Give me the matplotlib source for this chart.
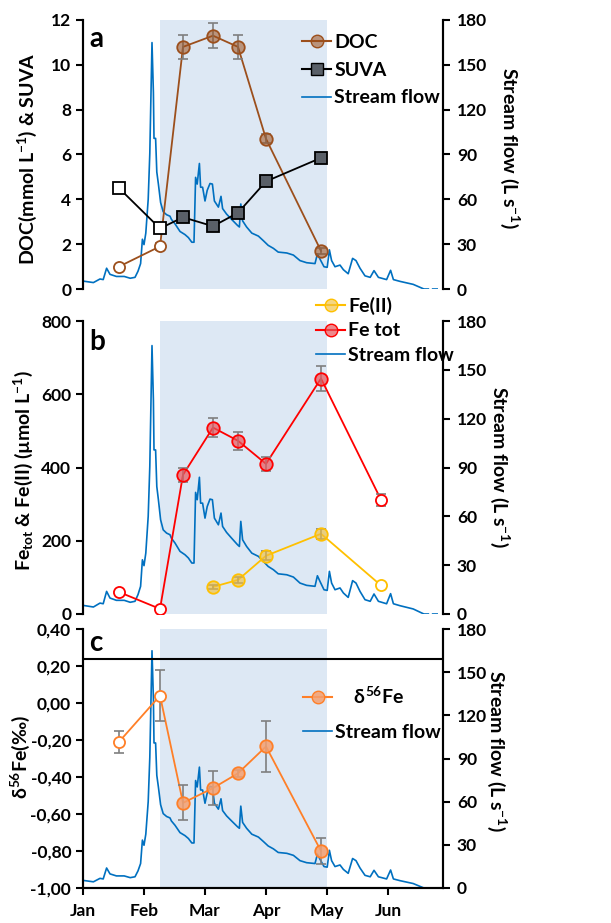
import numpy as np
import matplotlib
matplotlib.use("Agg")
import matplotlib.pyplot as plt
from matplotlib.lines import Line2D
from matplotlib.ticker import FuncFormatter

plt.rcParams['font.family'] = ['Lato', 'DejaVu Sans']
plt.rcParams['font.weight'] = 'bold'
plt.rcParams['axes.labelweight'] = 'bold'
plt.rcParams['mathtext.fontset'] = 'custom'
plt.rcParams['mathtext.rm'] = 'Lato:bold'
plt.rcParams['mathtext.bf'] = 'Lato:bold'
plt.rcParams['mathtext.it'] = 'Lato:bold'
plt.rcParams['mathtext.default'] = 'bf'

# ===== dati =====
# asse x: giorni dall'1 gennaio, mesi a passo costante (30.5 giorni) come nell'originale
sample_day = [18, 38.5, 50, 65, 77.5, 91.5, 119, 149]

doc = [1.0, 1.9, 10.8, 11.3, 10.8, 6.7, 1.7]
doc_err = [0.05, 0.15, 0.55, 0.55, 0.55, 0.2, 0.12]
suva = [4.5, 2.7, 3.2, 2.8, 3.4, 4.8, 5.85]

fe_tot = [60, 14, 380, 509, 473, 410, 643, 312]
fe_tot_err = [5, 5, 20, 25, 24, 20, 33, 16]
fe2_day = [65, 77.5, 91.5, 119, 149]
fe2 = [74, 93, 159, 219, 78]
fe2_err = [5, 8, 12, 14, 5]

d56fe = [-0.21, 0.04, -0.54, -0.46, -0.38, -0.235, -0.80]
d56fe_err = [0.06, 0.14, 0.095, 0.09, 0.02, 0.14, 0.07]

flow_day = [0, 5.2, 8.5, 10.1, 11.8, 13.5, 16.7, 20.6, 23.6, 26.0, 27.5, 28.8, 29.7, 30.5,
            31.4, 32.6, 33.4, 34.5, 35.2, 35.5, 36.3, 36.9, 37.7, 38.8, 40.1, 41.8, 43.5,
            44.2, 46.0, 48.5, 51.0, 52.7, 54.4, 55.5, 56.3, 57.1, 58.2, 58.8, 59.8, 61.0,
            62.1, 63.5, 64.7, 65.7, 67.7, 69.0, 69.8, 71.8, 74.3, 77.3, 78.2, 78.9, 79.8,
            81.8, 84.4, 87.7, 90.2, 92.6, 95.2, 97.6, 101.9, 105.2, 108.5, 111.8, 116.0,
            117.2, 118.5, 120.5, 122.1, 123.2, 124.3, 126.0, 128.5, 130.2, 132.6, 134.8,
            136.5, 138.5, 141.0, 143.6, 145.5, 147.7, 151.8, 153.8, 155.2, 158.5, 165.1,
            170.1]
flow_q = [5.3, 4.3, 6.7, 6.3, 13.9, 9.8, 8.4, 8.4, 7.2, 7.8, 11.9, 17, 33.3, 29.7, 37.4,
          60, 90.6, 164.9, 131.5, 100.8, 100.8, 78.3, 70.2, 57.9, 51.7, 49.7, 48.7, 46.6,
          43.6, 38.5, 36.4, 34.4, 31.3, 31.3, 74.7, 70.2, 84, 68.1, 68.1, 58.9, 66,
          70.6, 70.2, 58.9, 54.8, 62, 53.8, 50.1, 46.6, 42.5, 41.5, 56.9, 45.6, 41.5,
          37.4, 35.4, 32.3, 29.2, 27.2, 24.7, 24.1, 22.7, 19, 17.6, 17, 23.5,
          20, 14.9, 14.5, 26.2, 19, 14.9, 16, 12.9, 10.2, 20.5, 19,
          13.9, 8.8, 7.8, 12.3, 7.8, 6.3, 12.5, 6.3, 5.1, 3.1, 0.2]
flow_gap_day = [170.1, 177.7]
flow_gap_q = [0, 0]

month_day = [0, 30.5, 61, 91.5, 122, 152.5]
month_lab = ['Jan', 'Feb', 'Mar', 'Apr', 'May', 'Jun']
shade = (38.5, 122)

# ===== colori =====
BLUE = '#0070c0'
SHADE = '#dde8f4'
ERR = '#7f7f7f'
TICK = 12.5


def face(c, a=0.6):
    return matplotlib.colors.to_rgba(c, a)


fig = plt.figure(figsize=(6.11, 9.23), dpi=100)
W, H = 611, 923


def ftext(x, y, s, rot):
    fig.text(x / W, 1 - y / H, s, rotation=rot, ha='center', va='center',
             fontsize=14, fontweight='bold')


def make_axes(top, bottom):
    rect = [83 / W, 1 - bottom / H, 360 / W, (bottom - top) / H]
    axf = fig.add_axes(rect)       # portata (sotto)
    ax = axf.twinx()               # dati (sopra)
    ax.yaxis.tick_left()
    axf.yaxis.tick_right()
    axf.axvspan(*shade, color=SHADE, lw=0, zorder=0)
    axf.plot(flow_day, flow_q, color=BLUE, lw=1.2, zorder=2)
    axf.plot(flow_gap_day, flow_gap_q, color=BLUE, lw=1.2, ls='--', zorder=2)
    axf.set_ylim(0, 180)
    axf.set_yticks(np.arange(0, 181, 30))
    axf.set_xlim(0, 180)
    for a in (ax, axf):
        a.spines['top'].set_visible(False)
        a.spines['left'].set_linewidth(1.5)
        a.spines['right'].set_linewidth(1.5)
        a.tick_params(axis='y', labelsize=TICK, width=1.5, length=5, direction='out')
    axf.tick_params(axis='y', pad=5)
    ax.tick_params(axis='x', bottom=False, labelbottom=False)
    return ax, axf


def series(ax, x, y, err, color, marker, open_idx, ms=9, fill=None):
    fill = fill or face(color)
    ax.plot(x, y, color=color, lw=1.3, zorder=3)
    if err is not None:
        ax.errorbar(x, y, yerr=err, fmt='none', ecolor=ERR, elinewidth=1.2,
                    capsize=3.5, capthick=1.2, zorder=4)
    for i, (xi, yi) in enumerate(zip(x, y)):
        op = i in open_idx
        ax.plot(xi, yi, marker=marker, ms=ms - (1 if op else 0), ls='none',
                mec=color, mew=1.3, mfc='white' if op else fill, zorder=5)


def legend(handles, labels, x, y, spacing):
    fig.legend(handles, labels, loc='upper left',
               bbox_to_anchor=(x / W, 1 - y / H), frameon=False, fontsize=14,
               handlelength=1.5, handletextpad=0.15, labelspacing=spacing,
               borderpad=0, borderaxespad=0)


# ===== pannello a =====
ax_a, axf_a = make_axes(20, 289)
series(ax_a, sample_day[:7], doc, doc_err, '#9c4f1c', 'o', [0, 1], fill=face('#9c4f1c', 0.55))
series(ax_a, sample_day[:7], suva, None, 'black', 's', [0, 1], fill='#5a6068')
ax_a.set_ylim(0, 12)
ax_a.set_yticks(np.arange(0, 13, 2))
for a in (ax_a, axf_a):
    a.spines['bottom'].set_visible(False)
axf_a.tick_params(axis='x', bottom=False, labelbottom=False)
ax_a.text(0.017, 0.93, 'a', transform=ax_a.transAxes, fontsize=20, va='center')
ftext(27, 159, 'DOC(mmol L$^{-1}$) & SUVA', 90)
ftext(510, 148, 'Stream flow (L s$^{-1}$)', 270)
h_a = [Line2D([], [], color='#9c4f1c', marker='o', ms=9, mec='#9c4f1c', mfc=face('#9c4f1c', 0.55)),
       Line2D([], [], color='black', marker='s', ms=9, mec='black', mfc='#5a6068'),
       Line2D([], [], color=BLUE, lw=1.2)]
legend(h_a, ['DOC', 'SUVA', 'Stream flow'], 302, 34, 0.55)

# ===== pannello b =====
ax_b, axf_b = make_axes(321, 614)
series(ax_b, sample_day, fe_tot, fe_tot_err, '#ff0000', 'o', [0, 1, 7], fill=face('#e8575c', 0.7))
series(ax_b, fe2_day, fe2, fe2_err, '#ffc000', 'o', [4], fill=face('#f0c040', 0.65))
ax_b.set_ylim(0, 800)
ax_b.set_yticks(np.arange(0, 801, 200))
for a in (ax_b, axf_b):
    a.spines['bottom'].set_visible(False)
axf_b.tick_params(axis='x', bottom=False, labelbottom=False)
ax_b.text(0.017, 0.928, 'b', transform=ax_b.transAxes, fontsize=20, va='center')
ftext(23, 471, 'Fe$_{tot}$ & Fe(II) (µmol L$^{-1}$)', 90)
ftext(500, 467, 'Stream flow (L s$^{-1}$)', 270)
h_b = [Line2D([], [], color='#ffc000', marker='o', ms=9, mec='#ffc000', mfc=face('#f0c040', 0.65)),
       Line2D([], [], color='#ff0000', marker='o', ms=9, mec='#ff0000', mfc=face('#e8575c', 0.7)),
       Line2D([], [], color=BLUE, lw=1.2)]
legend(h_b, ['Fe(II)', 'Fe tot', 'Stream flow'], 316, 297, 0.38)

# ===== pannello c =====
ax_c, axf_c = make_axes(629, 888)
series(ax_c, sample_day[:7], d56fe, d56fe_err, '#ff7f27', 'o', [0, 1], fill=face('#f4a070', 0.85))
ax_c.axhline(0.24, color='black', lw=1.5, zorder=3)
ax_c.set_ylim(-1.0, 0.4)
ax_c.set_yticks(np.arange(-1.0, 0.41, 0.2))
ax_c.yaxis.set_major_formatter(
    FuncFormatter(lambda v, p: f'{v:.2f}'.replace('.', ',').replace('-0,00', '0,00')))
axf_c.spines['bottom'].set_linewidth(1.5)
ax_c.spines['bottom'].set_linewidth(1.5)
axf_c.set_xticks(month_day)
axf_c.set_xticklabels(month_lab)
axf_c.tick_params(axis='x', labelsize=TICK, width=1.5, length=5, pad=6)
ax_c.text(0.017, 0.946, 'c', transform=ax_c.transAxes, fontsize=20, va='center')
ftext(20, 757, 'δ$^{56}$Fe(‰)', 90)
ftext(497, 751, 'Stream flow (L s$^{-1}$)', 270)
h_c = [Line2D([], [], color='#ff7f27', marker='o', ms=9, mec='#ff7f27', mfc=face('#f4a070', 0.85)),
       Line2D([], [], color=BLUE, lw=1.2)]
legend(h_c, ['    δ$^{56}$Fe', 'Stream flow'], 303, 686, 0.85)

fig.savefig('out.png', dpi=100)
